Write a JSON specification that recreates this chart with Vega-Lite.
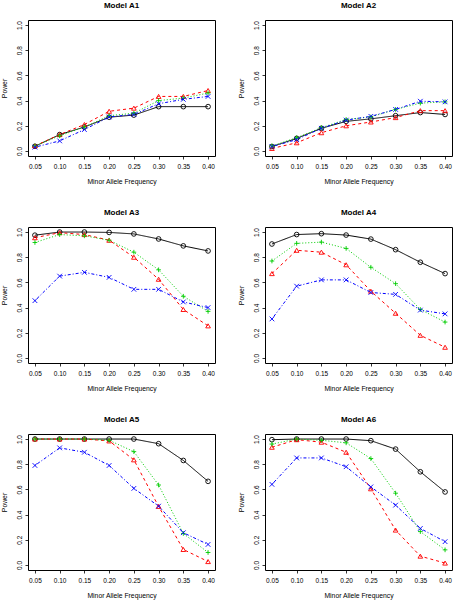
{
  "$schema": "https://vega.github.io/schema/vega-lite/v6.json",
  "background": "white",
  "padding": {"left": 0, "top": 1, "right": 0, "bottom": 0},
  "datasets": {
    "power": [
      {"model":"A1","method":"M1","maf":0.05,"power":0.037},{"model":"A1","method":"M1","maf":0.10,"power":0.13},{"model":"A1","method":"M1","maf":0.15,"power":0.19},{"model":"A1","method":"M1","maf":0.20,"power":0.268},{"model":"A1","method":"M1","maf":0.25,"power":0.285},{"model":"A1","method":"M1","maf":0.30,"power":0.352},{"model":"A1","method":"M1","maf":0.35,"power":0.352},{"model":"A1","method":"M1","maf":0.40,"power":0.352},
      {"model":"A1","method":"M2","maf":0.05,"power":0.04},{"model":"A1","method":"M2","maf":0.10,"power":0.13},{"model":"A1","method":"M2","maf":0.15,"power":0.21},{"model":"A1","method":"M2","maf":0.20,"power":0.315},{"model":"A1","method":"M2","maf":0.25,"power":0.34},{"model":"A1","method":"M2","maf":0.30,"power":0.433},{"model":"A1","method":"M2","maf":0.35,"power":0.433},{"model":"A1","method":"M2","maf":0.40,"power":0.48},
      {"model":"A1","method":"M3","maf":0.05,"power":0.04},{"model":"A1","method":"M3","maf":0.10,"power":0.12},{"model":"A1","method":"M3","maf":0.15,"power":0.19},{"model":"A1","method":"M3","maf":0.20,"power":0.28},{"model":"A1","method":"M3","maf":0.25,"power":0.30},{"model":"A1","method":"M3","maf":0.30,"power":0.40},{"model":"A1","method":"M3","maf":0.35,"power":0.42},{"model":"A1","method":"M3","maf":0.40,"power":0.46},
      {"model":"A1","method":"M4","maf":0.05,"power":0.03},{"model":"A1","method":"M4","maf":0.10,"power":0.08},{"model":"A1","method":"M4","maf":0.15,"power":0.17},{"model":"A1","method":"M4","maf":0.20,"power":0.27},{"model":"A1","method":"M4","maf":0.25,"power":0.29},{"model":"A1","method":"M4","maf":0.30,"power":0.375},{"model":"A1","method":"M4","maf":0.35,"power":0.41},{"model":"A1","method":"M4","maf":0.40,"power":0.433},

      {"model":"A2","method":"M1","maf":0.05,"power":0.035},{"model":"A2","method":"M1","maf":0.10,"power":0.10},{"model":"A2","method":"M1","maf":0.15,"power":0.18},{"model":"A2","method":"M1","maf":0.20,"power":0.235},{"model":"A2","method":"M1","maf":0.25,"power":0.255},{"model":"A2","method":"M1","maf":0.30,"power":0.28},{"model":"A2","method":"M1","maf":0.35,"power":0.305},{"model":"A2","method":"M1","maf":0.40,"power":0.29},
      {"model":"A2","method":"M2","maf":0.05,"power":0.02},{"model":"A2","method":"M2","maf":0.10,"power":0.065},{"model":"A2","method":"M2","maf":0.15,"power":0.145},{"model":"A2","method":"M2","maf":0.20,"power":0.20},{"model":"A2","method":"M2","maf":0.25,"power":0.23},{"model":"A2","method":"M2","maf":0.30,"power":0.265},{"model":"A2","method":"M2","maf":0.35,"power":0.32},{"model":"A2","method":"M2","maf":0.40,"power":0.32},
      {"model":"A2","method":"M3","maf":0.05,"power":0.04},{"model":"A2","method":"M3","maf":0.10,"power":0.105},{"model":"A2","method":"M3","maf":0.15,"power":0.185},{"model":"A2","method":"M3","maf":0.20,"power":0.25},{"model":"A2","method":"M3","maf":0.25,"power":0.27},{"model":"A2","method":"M3","maf":0.30,"power":0.33},{"model":"A2","method":"M3","maf":0.35,"power":0.38},{"model":"A2","method":"M3","maf":0.40,"power":0.39},
      {"model":"A2","method":"M4","maf":0.05,"power":0.035},{"model":"A2","method":"M4","maf":0.10,"power":0.09},{"model":"A2","method":"M4","maf":0.15,"power":0.18},{"model":"A2","method":"M4","maf":0.20,"power":0.245},{"model":"A2","method":"M4","maf":0.25,"power":0.275},{"model":"A2","method":"M4","maf":0.30,"power":0.33},{"model":"A2","method":"M4","maf":0.35,"power":0.395},{"model":"A2","method":"M4","maf":0.40,"power":0.39},

      {"model":"A3","method":"M1","maf":0.05,"power":0.975},{"model":"A3","method":"M1","maf":0.10,"power":1.0},{"model":"A3","method":"M1","maf":0.15,"power":1.0},{"model":"A3","method":"M1","maf":0.20,"power":0.997},{"model":"A3","method":"M1","maf":0.25,"power":0.985},{"model":"A3","method":"M1","maf":0.30,"power":0.945},{"model":"A3","method":"M1","maf":0.35,"power":0.89},{"model":"A3","method":"M1","maf":0.40,"power":0.85},
      {"model":"A3","method":"M2","maf":0.05,"power":0.955},{"model":"A3","method":"M2","maf":0.10,"power":0.995},{"model":"A3","method":"M2","maf":0.15,"power":0.98},{"model":"A3","method":"M2","maf":0.20,"power":0.935},{"model":"A3","method":"M2","maf":0.25,"power":0.80},{"model":"A3","method":"M2","maf":0.30,"power":0.625},{"model":"A3","method":"M2","maf":0.35,"power":0.385},{"model":"A3","method":"M2","maf":0.40,"power":0.255},
      {"model":"A3","method":"M3","maf":0.05,"power":0.917},{"model":"A3","method":"M3","maf":0.10,"power":0.98},{"model":"A3","method":"M3","maf":0.15,"power":0.97},{"model":"A3","method":"M3","maf":0.20,"power":0.935},{"model":"A3","method":"M3","maf":0.25,"power":0.84},{"model":"A3","method":"M3","maf":0.30,"power":0.70},{"model":"A3","method":"M3","maf":0.35,"power":0.49},{"model":"A3","method":"M3","maf":0.40,"power":0.37},
      {"model":"A3","method":"M4","maf":0.05,"power":0.455},{"model":"A3","method":"M4","maf":0.10,"power":0.65},{"model":"A3","method":"M4","maf":0.15,"power":0.68},{"model":"A3","method":"M4","maf":0.20,"power":0.64},{"model":"A3","method":"M4","maf":0.25,"power":0.545},{"model":"A3","method":"M4","maf":0.30,"power":0.545},{"model":"A3","method":"M4","maf":0.35,"power":0.445},{"model":"A3","method":"M4","maf":0.40,"power":0.40},

      {"model":"A4","method":"M1","maf":0.05,"power":0.905},{"model":"A4","method":"M1","maf":0.10,"power":0.98},{"model":"A4","method":"M1","maf":0.15,"power":0.987},{"model":"A4","method":"M1","maf":0.20,"power":0.976},{"model":"A4","method":"M1","maf":0.25,"power":0.944},{"model":"A4","method":"M1","maf":0.30,"power":0.86},{"model":"A4","method":"M1","maf":0.35,"power":0.76},{"model":"A4","method":"M1","maf":0.40,"power":0.67},
      {"model":"A4","method":"M2","maf":0.05,"power":0.67},{"model":"A4","method":"M2","maf":0.10,"power":0.855},{"model":"A4","method":"M2","maf":0.15,"power":0.84},{"model":"A4","method":"M2","maf":0.20,"power":0.74},{"model":"A4","method":"M2","maf":0.25,"power":0.53},{"model":"A4","method":"M2","maf":0.30,"power":0.355},{"model":"A4","method":"M2","maf":0.35,"power":0.18},{"model":"A4","method":"M2","maf":0.40,"power":0.085},
      {"model":"A4","method":"M3","maf":0.05,"power":0.77},{"model":"A4","method":"M3","maf":0.10,"power":0.91},{"model":"A4","method":"M3","maf":0.15,"power":0.92},{"model":"A4","method":"M3","maf":0.20,"power":0.87},{"model":"A4","method":"M3","maf":0.25,"power":0.72},{"model":"A4","method":"M3","maf":0.30,"power":0.59},{"model":"A4","method":"M3","maf":0.35,"power":0.385},{"model":"A4","method":"M3","maf":0.40,"power":0.285},
      {"model":"A4","method":"M4","maf":0.05,"power":0.31},{"model":"A4","method":"M4","maf":0.10,"power":0.57},{"model":"A4","method":"M4","maf":0.15,"power":0.62},{"model":"A4","method":"M4","maf":0.20,"power":0.62},{"model":"A4","method":"M4","maf":0.25,"power":0.52},{"model":"A4","method":"M4","maf":0.30,"power":0.505},{"model":"A4","method":"M4","maf":0.35,"power":0.38},{"model":"A4","method":"M4","maf":0.40,"power":0.35},

      {"model":"A5","method":"M1","maf":0.05,"power":1.0},{"model":"A5","method":"M1","maf":0.10,"power":1.0},{"model":"A5","method":"M1","maf":0.15,"power":1.0},{"model":"A5","method":"M1","maf":0.20,"power":1.0},{"model":"A5","method":"M1","maf":0.25,"power":1.0},{"model":"A5","method":"M1","maf":0.30,"power":0.963},{"model":"A5","method":"M1","maf":0.35,"power":0.83},{"model":"A5","method":"M1","maf":0.40,"power":0.664},
      {"model":"A5","method":"M2","maf":0.05,"power":1.0},{"model":"A5","method":"M2","maf":0.10,"power":1.0},{"model":"A5","method":"M2","maf":0.15,"power":1.0},{"model":"A5","method":"M2","maf":0.20,"power":0.985},{"model":"A5","method":"M2","maf":0.25,"power":0.835},{"model":"A5","method":"M2","maf":0.30,"power":0.465},{"model":"A5","method":"M2","maf":0.35,"power":0.123},{"model":"A5","method":"M2","maf":0.40,"power":0.027},
      {"model":"A5","method":"M3","maf":0.05,"power":1.0},{"model":"A5","method":"M3","maf":0.10,"power":1.0},{"model":"A5","method":"M3","maf":0.15,"power":1.0},{"model":"A5","method":"M3","maf":0.20,"power":0.99},{"model":"A5","method":"M3","maf":0.25,"power":0.90},{"model":"A5","method":"M3","maf":0.30,"power":0.635},{"model":"A5","method":"M3","maf":0.35,"power":0.25},{"model":"A5","method":"M3","maf":0.40,"power":0.099},
      {"model":"A5","method":"M4","maf":0.05,"power":0.79},{"model":"A5","method":"M4","maf":0.10,"power":0.93},{"model":"A5","method":"M4","maf":0.15,"power":0.895},{"model":"A5","method":"M4","maf":0.20,"power":0.79},{"model":"A5","method":"M4","maf":0.25,"power":0.608},{"model":"A5","method":"M4","maf":0.30,"power":0.467},{"model":"A5","method":"M4","maf":0.35,"power":0.256},{"model":"A5","method":"M4","maf":0.40,"power":0.163},

      {"model":"A6","method":"M1","maf":0.05,"power":0.995},{"model":"A6","method":"M1","maf":0.10,"power":1.0},{"model":"A6","method":"M1","maf":0.15,"power":1.0},{"model":"A6","method":"M1","maf":0.20,"power":1.0},{"model":"A6","method":"M1","maf":0.25,"power":0.987},{"model":"A6","method":"M1","maf":0.30,"power":0.92},{"model":"A6","method":"M1","maf":0.35,"power":0.74},{"model":"A6","method":"M1","maf":0.40,"power":0.58},
      {"model":"A6","method":"M2","maf":0.05,"power":0.935},{"model":"A6","method":"M2","maf":0.10,"power":0.995},{"model":"A6","method":"M2","maf":0.15,"power":0.975},{"model":"A6","method":"M2","maf":0.20,"power":0.895},{"model":"A6","method":"M2","maf":0.25,"power":0.605},{"model":"A6","method":"M2","maf":0.30,"power":0.277},{"model":"A6","method":"M2","maf":0.35,"power":0.07},{"model":"A6","method":"M2","maf":0.40,"power":0.015},
      {"model":"A6","method":"M3","maf":0.05,"power":0.96},{"model":"A6","method":"M3","maf":0.10,"power":1.0},{"model":"A6","method":"M3","maf":0.15,"power":0.99},{"model":"A6","method":"M3","maf":0.20,"power":0.97},{"model":"A6","method":"M3","maf":0.25,"power":0.845},{"model":"A6","method":"M3","maf":0.30,"power":0.57},{"model":"A6","method":"M3","maf":0.35,"power":0.265},{"model":"A6","method":"M3","maf":0.40,"power":0.12},
      {"model":"A6","method":"M4","maf":0.05,"power":0.64},{"model":"A6","method":"M4","maf":0.10,"power":0.85},{"model":"A6","method":"M4","maf":0.15,"power":0.85},{"model":"A6","method":"M4","maf":0.20,"power":0.78},{"model":"A6","method":"M4","maf":0.25,"power":0.62},{"model":"A6","method":"M4","maf":0.30,"power":0.475},{"model":"A6","method":"M4","maf":0.35,"power":0.29},{"model":"A6","method":"M4","maf":0.40,"power":0.185}
    ]
  },
  "data": {"name": "power"},
  "columns": 2,
  "spacing": {"row": 71, "column": 50},
  "bounds": "flush",
  "concat": [
    {"title": "Model A1", "width": 187, "height": 136, "transform": [{"filter": "datum.model === 'A1'"}],
     "encoding": {
       "x": {"field": "maf", "type": "quantitative", "scale": {"domain": [0.036, 0.414], "nice": false, "zero": false}, "axis": {"values": [0.05,0.1,0.15,0.2,0.25,0.3,0.35,0.4], "format": ".2f", "title": "Minor Allele Frequency"}},
       "y": {"field": "power", "type": "quantitative", "scale": {"domain": [-0.04, 1.04], "nice": false, "zero": false}, "axis": {"values": [0,0.2,0.4,0.6,0.8,1], "format": ".1f", "title": "Power"}},
       "color": {"field": "method", "type": "nominal", "scale": {"domain": ["M1","M2","M3","M4"], "range": ["#000000","#FF0000","#00CD00","#0000FF"]}, "legend": null}
     },
     "layer": [
       {"mark": {"type": "line", "strokeWidth": 1}, "encoding": {"strokeDash": {"field": "method", "type": "nominal", "scale": {"domain": ["M1","M2","M3","M4"], "range": [[1,0],[3,3],[1,2],[1,2,3,2]]}, "legend": null}}},
       {"mark": {"type": "point", "filled": false, "size": 22, "strokeWidth": 0.9, "opacity": 1}, "encoding": {"shape": {"field": "method", "type": "nominal", "scale": {"domain": ["M1","M2","M3","M4"], "range": ["circle","triangle-up","M-1,0H1M0,-1V1","M-1,-1L1,1M-1,1L1,-1"]}, "legend": null}}}
     ]},
    {"title": "Model A2", "width": 187, "height": 136, "transform": [{"filter": "datum.model === 'A2'"}],
     "encoding": {
       "x": {"field": "maf", "type": "quantitative", "scale": {"domain": [0.036, 0.414], "nice": false, "zero": false}, "axis": {"values": [0.05,0.1,0.15,0.2,0.25,0.3,0.35,0.4], "format": ".2f", "title": "Minor Allele Frequency"}},
       "y": {"field": "power", "type": "quantitative", "scale": {"domain": [-0.04, 1.04], "nice": false, "zero": false}, "axis": {"values": [0,0.2,0.4,0.6,0.8,1], "format": ".1f", "title": "Power"}},
       "color": {"field": "method", "type": "nominal", "scale": {"domain": ["M1","M2","M3","M4"], "range": ["#000000","#FF0000","#00CD00","#0000FF"]}, "legend": null}
     },
     "layer": [
       {"mark": {"type": "line", "strokeWidth": 1}, "encoding": {"strokeDash": {"field": "method", "type": "nominal", "scale": {"domain": ["M1","M2","M3","M4"], "range": [[1,0],[3,3],[1,2],[1,2,3,2]]}, "legend": null}}},
       {"mark": {"type": "point", "filled": false, "size": 22, "strokeWidth": 0.9, "opacity": 1}, "encoding": {"shape": {"field": "method", "type": "nominal", "scale": {"domain": ["M1","M2","M3","M4"], "range": ["circle","triangle-up","M-1,0H1M0,-1V1","M-1,-1L1,1M-1,1L1,-1"]}, "legend": null}}}
     ]},
    {"title": "Model A3", "width": 187, "height": 136, "transform": [{"filter": "datum.model === 'A3'"}],
     "encoding": {
       "x": {"field": "maf", "type": "quantitative", "scale": {"domain": [0.036, 0.414], "nice": false, "zero": false}, "axis": {"values": [0.05,0.1,0.15,0.2,0.25,0.3,0.35,0.4], "format": ".2f", "title": "Minor Allele Frequency"}},
       "y": {"field": "power", "type": "quantitative", "scale": {"domain": [-0.04, 1.04], "nice": false, "zero": false}, "axis": {"values": [0,0.2,0.4,0.6,0.8,1], "format": ".1f", "title": "Power"}},
       "color": {"field": "method", "type": "nominal", "scale": {"domain": ["M1","M2","M3","M4"], "range": ["#000000","#FF0000","#00CD00","#0000FF"]}, "legend": null}
     },
     "layer": [
       {"mark": {"type": "line", "strokeWidth": 1}, "encoding": {"strokeDash": {"field": "method", "type": "nominal", "scale": {"domain": ["M1","M2","M3","M4"], "range": [[1,0],[3,3],[1,2],[1,2,3,2]]}, "legend": null}}},
       {"mark": {"type": "point", "filled": false, "size": 22, "strokeWidth": 0.9, "opacity": 1}, "encoding": {"shape": {"field": "method", "type": "nominal", "scale": {"domain": ["M1","M2","M3","M4"], "range": ["circle","triangle-up","M-1,0H1M0,-1V1","M-1,-1L1,1M-1,1L1,-1"]}, "legend": null}}}
     ]},
    {"title": "Model A4", "width": 187, "height": 136, "transform": [{"filter": "datum.model === 'A4'"}],
     "encoding": {
       "x": {"field": "maf", "type": "quantitative", "scale": {"domain": [0.036, 0.414], "nice": false, "zero": false}, "axis": {"values": [0.05,0.1,0.15,0.2,0.25,0.3,0.35,0.4], "format": ".2f", "title": "Minor Allele Frequency"}},
       "y": {"field": "power", "type": "quantitative", "scale": {"domain": [-0.04, 1.04], "nice": false, "zero": false}, "axis": {"values": [0,0.2,0.4,0.6,0.8,1], "format": ".1f", "title": "Power"}},
       "color": {"field": "method", "type": "nominal", "scale": {"domain": ["M1","M2","M3","M4"], "range": ["#000000","#FF0000","#00CD00","#0000FF"]}, "legend": null}
     },
     "layer": [
       {"mark": {"type": "line", "strokeWidth": 1}, "encoding": {"strokeDash": {"field": "method", "type": "nominal", "scale": {"domain": ["M1","M2","M3","M4"], "range": [[1,0],[3,3],[1,2],[1,2,3,2]]}, "legend": null}}},
       {"mark": {"type": "point", "filled": false, "size": 22, "strokeWidth": 0.9, "opacity": 1}, "encoding": {"shape": {"field": "method", "type": "nominal", "scale": {"domain": ["M1","M2","M3","M4"], "range": ["circle","triangle-up","M-1,0H1M0,-1V1","M-1,-1L1,1M-1,1L1,-1"]}, "legend": null}}}
     ]},
    {"title": "Model A5", "width": 187, "height": 136, "transform": [{"filter": "datum.model === 'A5'"}],
     "encoding": {
       "x": {"field": "maf", "type": "quantitative", "scale": {"domain": [0.036, 0.414], "nice": false, "zero": false}, "axis": {"values": [0.05,0.1,0.15,0.2,0.25,0.3,0.35,0.4], "format": ".2f", "title": "Minor Allele Frequency"}},
       "y": {"field": "power", "type": "quantitative", "scale": {"domain": [-0.04, 1.04], "nice": false, "zero": false}, "axis": {"values": [0,0.2,0.4,0.6,0.8,1], "format": ".1f", "title": "Power"}},
       "color": {"field": "method", "type": "nominal", "scale": {"domain": ["M1","M2","M3","M4"], "range": ["#000000","#FF0000","#00CD00","#0000FF"]}, "legend": null}
     },
     "layer": [
       {"mark": {"type": "line", "strokeWidth": 1}, "encoding": {"strokeDash": {"field": "method", "type": "nominal", "scale": {"domain": ["M1","M2","M3","M4"], "range": [[1,0],[3,3],[1,2],[1,2,3,2]]}, "legend": null}}},
       {"mark": {"type": "point", "filled": false, "size": 22, "strokeWidth": 0.9, "opacity": 1}, "encoding": {"shape": {"field": "method", "type": "nominal", "scale": {"domain": ["M1","M2","M3","M4"], "range": ["circle","triangle-up","M-1,0H1M0,-1V1","M-1,-1L1,1M-1,1L1,-1"]}, "legend": null}}}
     ]},
    {"title": "Model A6", "width": 187, "height": 136, "transform": [{"filter": "datum.model === 'A6'"}],
     "encoding": {
       "x": {"field": "maf", "type": "quantitative", "scale": {"domain": [0.036, 0.414], "nice": false, "zero": false}, "axis": {"values": [0.05,0.1,0.15,0.2,0.25,0.3,0.35,0.4], "format": ".2f", "title": "Minor Allele Frequency"}},
       "y": {"field": "power", "type": "quantitative", "scale": {"domain": [-0.04, 1.04], "nice": false, "zero": false}, "axis": {"values": [0,0.2,0.4,0.6,0.8,1], "format": ".1f", "title": "Power"}},
       "color": {"field": "method", "type": "nominal", "scale": {"domain": ["M1","M2","M3","M4"], "range": ["#000000","#FF0000","#00CD00","#0000FF"]}, "legend": null}
     },
     "layer": [
       {"mark": {"type": "line", "strokeWidth": 1}, "encoding": {"strokeDash": {"field": "method", "type": "nominal", "scale": {"domain": ["M1","M2","M3","M4"], "range": [[1,0],[3,3],[1,2],[1,2,3,2]]}, "legend": null}}},
       {"mark": {"type": "point", "filled": false, "size": 22, "strokeWidth": 0.9, "opacity": 1}, "encoding": {"shape": {"field": "method", "type": "nominal", "scale": {"domain": ["M1","M2","M3","M4"], "range": ["circle","triangle-up","M-1,0H1M0,-1V1","M-1,-1L1,1M-1,1L1,-1"]}, "legend": null}}}
     ]}
  ],
  "resolve": {"scale": {"x": "independent", "y": "independent"}},
  "config": {
    "font": "Liberation Sans",
    "view": {"stroke": "#000000", "strokeWidth": 1},
    "axis": {"grid": false, "domain": false, "tickColor": "#000000", "tickSize": 3, "tickWidth": 0.8, "labelColor": "#000000", "titleColor": "#000000", "labelFont": "Liberation Sans", "titleFont": "Liberation Sans", "labelFontSize": 6.5, "titleFontSize": 6.8, "titleFontWeight": "normal", "labelFlush": false, "labelOverlap": false},
    "axisX": {"labelPadding": 4, "titlePadding": 9},
    "axisY": {"labelAngle": 270, "labelAlign": "center", "labelBaseline": "bottom", "labelPadding": 3, "titlePadding": 9},
    "title": {"font": "Liberation Sans", "fontSize": 8, "fontWeight": "bold", "color": "#000000", "offset": 10}
  }
}
